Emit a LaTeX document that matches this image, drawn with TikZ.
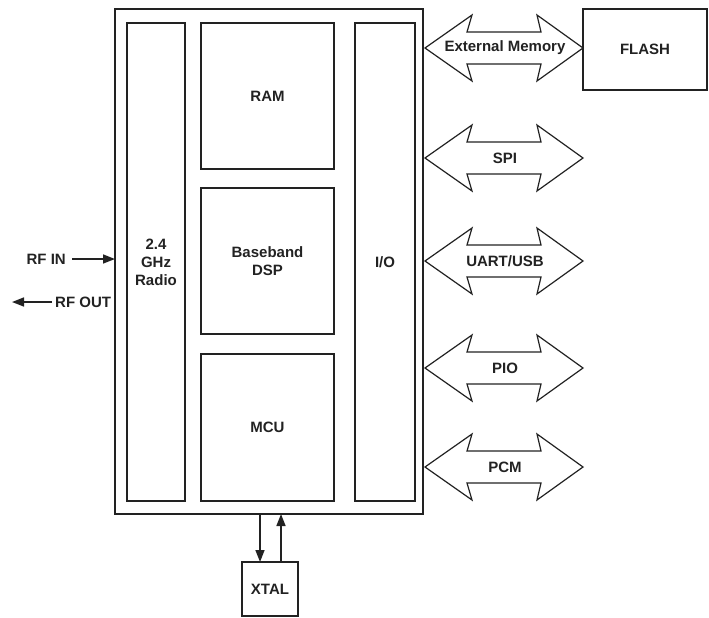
\documentclass[tikz,border=0pt]{standalone}
\usepackage{fontspec}
\setmainfont{Liberation Sans}
\usetikzlibrary{arrows.meta,calc}
\definecolor{ink}{HTML}{222222}
\begin{document}
\begin{tikzpicture}[x=1pt,y=-1pt,
  every node/.style={font=\fontsize{15}{18}\selectfont\bfseries, text=ink},
  blk/.style={draw=ink, line width=1.6pt, inner sep=0pt, outer sep=0pt, anchor=north west, align=center},
  outerbox/.style={blk, line width=2.6pt},
  busarrow/.style={draw=ink, line width=1.2pt, line join=miter, fill=white},
  sig/.style={draw=ink, line width=1.6pt, -{Triangle[length=12pt,width=9pt]}},
  lbl/.style={inner sep=0pt}]
\useasboundingbox (0,0) rectangle (709,618);
% main chip
\node[outerbox, minimum width=308pt, minimum height=505pt] (chip) at (115,9) {};
\node[blk, minimum width=58pt, minimum height=478pt] (radio) at (127,23) {2.4\\GHz\\Radio};
\node[blk, minimum width=133pt, minimum height=146pt] (ram) at (201,23) {RAM};
\node[blk, minimum width=133pt, minimum height=146pt] (dsp) at (201,188) {Baseband\\DSP};
\node[blk, minimum width=133pt, minimum height=147pt] (mcu) at (201,354) {MCU};
\node[blk, minimum width=60pt, minimum height=478pt] (io) at (355,23) {I/O};
% flash
\node[blk, line width=1.4pt, minimum width=124pt, minimum height=81pt] (flash) at (583,9) {FLASH};
% xtal
\node[blk, line width=1.4pt, minimum width=56pt, minimum height=54pt] (xtal) at (242,562) {XTAL};
% bus arrows
\foreach \cy/\txt/\nm in {48/{External Memory}/ext, 158/{SPI}/spi, 261/{UART/USB}/uart, 368/{PIO}/pio, 467/{PCM}/pcm}{
  \draw[busarrow] (425,\cy) -- (472,\cy-33) -- (467,\cy-16) -- (541,\cy-16) -- (537,\cy-33)
    -- (583,\cy) -- (537,\cy+33) -- (541,\cy+16) -- (467,\cy+16) -- (472,\cy+33) -- cycle;
  \node[lbl] (\nm) at (505,\cy) {\txt};
}
% RF
\node[lbl, anchor=east] (rfin) at (66,259) {RF IN};
\node[lbl, anchor=west] (rfout) at (55,302) {RF OUT};
\coordinate (rfoutend) at (12,302);
\draw[sig] ([xshift=6pt]rfin.east) -- (rfin.east -| chip.west);
\draw[sig] ([xshift=-3pt]rfout.west) -- (rfoutend);
% xtal arrows
\coordinate (xd) at (260,0);
\coordinate (xu) at (281,0);
\draw[sig] (chip.south -| xd) -- (xtal.north -| xd);
\draw[sig] (xtal.north -| xu) -- (chip.south -| xu);
\end{tikzpicture}
\end{document}
